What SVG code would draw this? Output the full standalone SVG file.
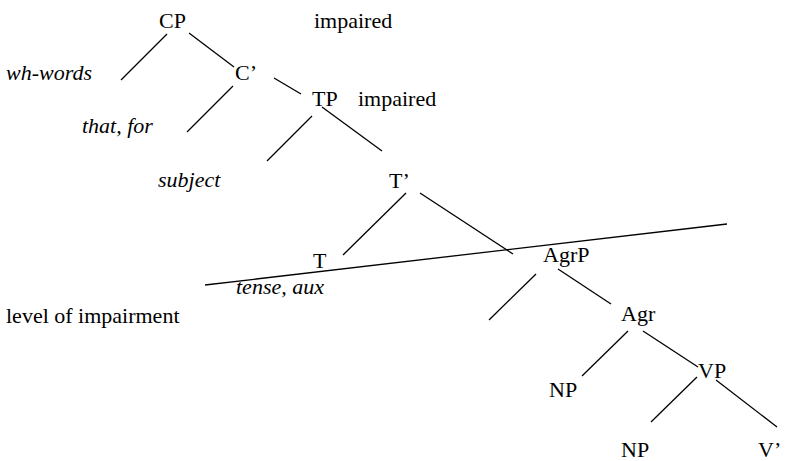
<svg xmlns="http://www.w3.org/2000/svg" width="796" height="461" viewBox="0 0 796 461">
  <style>
    text { font-family: "Liberation Serif", "Times New Roman", serif; font-size: 22px; fill: #000; }
    .it { font-style: italic; }
    #edges line { stroke: #000; stroke-width: 1.3; stroke-linecap: butt; }
  </style>
  <rect width="796" height="461" fill="#fff"/>

  <!-- tree edges and the impairment boundary -->
  <g id="edges">
    <line x1="167" y1="34" x2="121" y2="80"/>
    <line x1="189" y1="33" x2="234" y2="67"/>
    <line x1="233" y1="86" x2="187" y2="132"/>
    <line x1="274" y1="78" x2="301" y2="94"/>
    <line x1="312" y1="116" x2="267" y2="161"/>
    <line x1="322" y1="107" x2="382" y2="151"/>
    <line x1="406" y1="193" x2="343" y2="255"/>
    <line x1="420" y1="193" x2="513" y2="254"/>
    <line x1="536" y1="274" x2="489" y2="320"/>
    <line x1="558" y1="269" x2="611" y2="304"/>
    <line x1="628" y1="331" x2="582" y2="376"/>
    <line x1="643" y1="331" x2="698" y2="367"/>
    <line x1="697" y1="377" x2="651" y2="422"/>
    <line x1="716" y1="380" x2="777" y2="427"/>
    <line id="impairment-line" x1="205" y1="285" x2="727" y2="224"/>
  </g>

  <g id="CP"><text x="159" y="28">CP</text></g>
  <g id="CP-note"><text x="314" y="28">impaired</text></g>
  <g id="wh-words"><text class="it" x="6" y="80">wh-words</text></g>
  <g id="C-bar"><text x="235" y="80">C’</text></g>
  <g id="that-for"><text class="it" x="82" y="133">that, for</text></g>
  <g id="TP"><text x="312" y="106">TP</text></g>
  <g id="TP-note"><text x="358" y="106">impaired</text></g>
  <g id="subject"><text class="it" x="158" y="187">subject</text></g>
  <g id="T-bar"><text x="389" y="188">T’</text></g>
  <g id="T"><text x="313" y="268">T</text></g>
  <g id="tense-aux"><text class="it" x="236" y="294">tense, aux</text></g>
  <g id="level"><text x="6" y="323">level of impairment</text></g>
  <g id="AgrP"><text x="543" y="262">AgrP</text></g>
  <g id="Agr"><text x="621" y="321">Agr</text></g>
  <g id="NP1"><text x="549" y="397">NP</text></g>
  <g id="VP"><text x="698" y="378">VP</text></g>
  <g id="NP2"><text x="621" y="457">NP</text></g>
  <g id="V-bar"><text x="758" y="457">V’</text></g>
</svg>
